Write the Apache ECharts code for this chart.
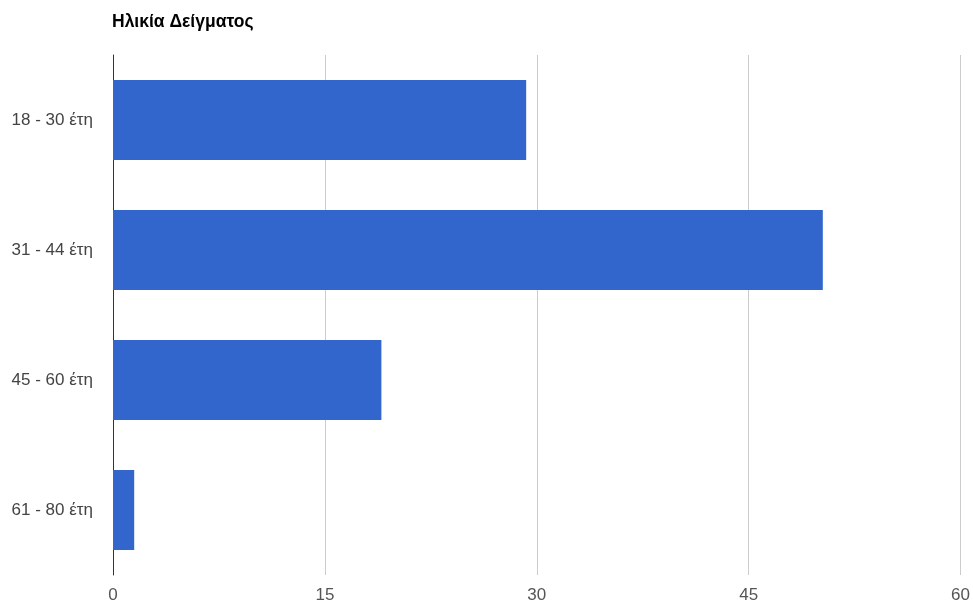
<!DOCTYPE html>
<html>
<head>
<meta charset="utf-8">
<script src="https://cdn.jsdelivr.net/npm/echarts@6/dist/echarts.min.js"></script>
<style>
  html, body { margin: 0; padding: 0; background: #fff; }
  #chart { width: 973px; height: 606px; }
</style>
</head>
<body>
<div id="chart"></div>
<script>
// Age groups of the sample (share of respondents)
const categories = ['18 - 30 έτη', '31 - 44 έτη', '45 - 60 έτη', '61 - 80 έτη'];
const values = [29.25, 50.25, 19, 1.5];
const xTicks = [0, 15, 30, 45, 60];

const chart = echarts.init(document.getElementById('chart'), null, { renderer: 'canvas' });

chart.setOption({
  animation: false,
  backgroundColor: '#ffffff',
  title: {
    text: 'Ηλικία Δείγματος',
    left: 107,
    top: 8,
    textStyle: {
      fontFamily: 'Liberation Sans, Arial, sans-serif',
      fontSize: 17.5,
      fontWeight: 'bold',
      color: '#000'
    }
  },
  grid: { left: 113, right: 12, top: 55, bottom: 31, containLabel: false },
  xAxis: {
    type: 'value',
    min: xTicks[0],
    max: xTicks[xTicks.length - 1],
    interval: 15,
    axisLine: { show: false },
    axisTick: { show: false },
    splitLine: { show: true, lineStyle: { color: '#cccccc', width: 1 } },
    axisLabel: {
      margin: 12,
      fontFamily: 'Liberation Sans, Arial, sans-serif',
      fontSize: 17,
      color: '#555555'
    }
  },
  yAxis: {
    type: 'category',
    inverse: true,
    data: categories,
    axisLine: { show: true, lineStyle: { color: '#333333', width: 1 } },
    axisTick: { show: false },
    axisLabel: {
      margin: 20,
      fontFamily: 'Liberation Sans, Arial, sans-serif',
      fontSize: 17,
      color: '#444444'
    }
  },
  series: [{
    type: 'bar',
    data: values,
    barCategoryGap: '38.5%',
    itemStyle: { color: '#3366cc' },
    z: 1
  }]
});
</script>
</body>
</html>
